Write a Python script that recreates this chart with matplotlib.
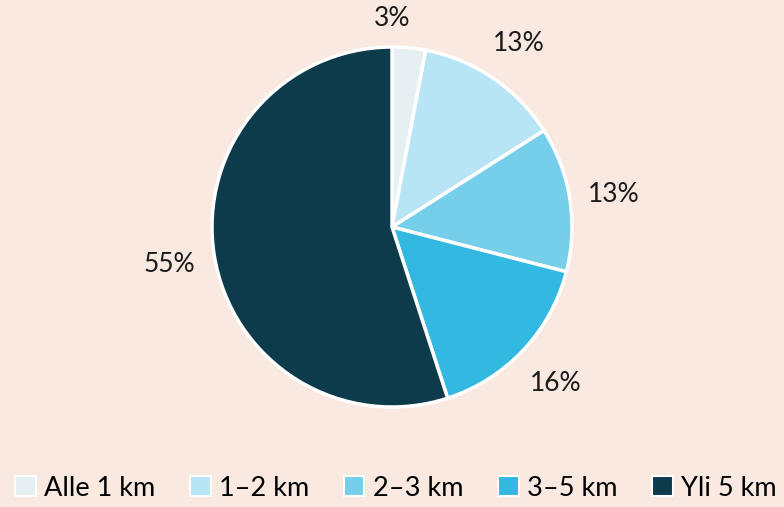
import matplotlib.pyplot as plt
from matplotlib.patches import Patch

plt.rcParams['font.family'] = ['Lato', 'DejaVu Sans']

# Data
categories = ['Alle 1 km', '1–2 km', '2–3 km', '3–5 km', 'Yli 5 km']
shares = [3, 13, 13, 16, 55]
colors = ['#e6eff1', '#b8e5f5', '#75cfeb', '#33b9e1', '#0d3b4c']
bg = '#f9e9e1'

fig = plt.figure(figsize=(7.84, 5.07), dpi=100, facecolor=bg)
ax = fig.add_axes([(392 - 180) / 784, 1 - (227 + 180) / 507, 360 / 784, 360 / 507])
ax.set_facecolor(bg)

wedges, texts = ax.pie(shares, colors=colors, startangle=90, counterclock=False,
                       labels=[f'{v}%' for v in shares], labeldistance=1.25,
                       wedgeprops=dict(edgecolor='white', linewidth=2.5),
                       textprops=dict(fontsize=19, color='#1a1a1a'))
for t in texts:
    t.set_horizontalalignment('center')
    t.set_verticalalignment('center_baseline')
# small slice label sits straight above the pie top
texts[0].set_position((0, 1.17))
ax.set_xlim(-1, 1)
ax.set_ylim(-1, 1)
ax.set_aspect('equal')

handles = [Patch(facecolor=c, edgecolor='white', linewidth=1.5) for c in colors]
fig.legend(handles, categories, loc='lower center', bbox_to_anchor=(0.505, -0.025),
           ncol=5, frameon=False, fontsize=19.5, handlelength=0.75, handleheight=0.75,
           handletextpad=0.3, columnspacing=1.3, borderaxespad=0.3)

fig.savefig('out.png', dpi=100, facecolor=bg)
